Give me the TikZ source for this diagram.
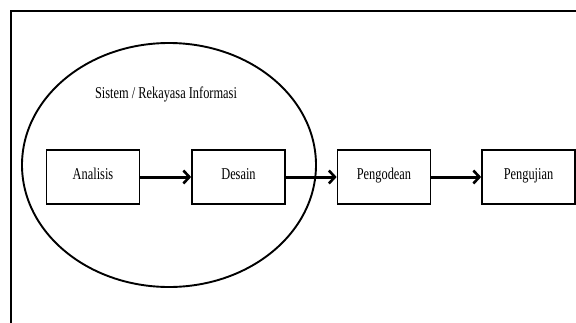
\documentclass[tikz,border=0pt]{standalone}
\usepackage{fontspec}
\setmainfont{Liberation Serif}
\newfontfamily\sempit[FakeStretch=0.75]{Liberation Serif}
\usepackage{tikz}
\usetikzlibrary{shapes.geometric}
\usetikzlibrary{arrows.meta}
\pgfdeclarelayer{nodelayer}
\pgfdeclarelayer{edgelayer}
\pgfsetlayers{edgelayer,nodelayer,main}
\tikzset{tahap/.style={draw=black, line width=1.7pt, inner sep=0pt, minimum width=93pt,
minimum height=54pt, text height=1.5ex, text depth=.25ex, text centered, anchor=center,
font=\sempit\fontsize{16.5}{18}\selectfont}}
\tikzset{judul/.style={inner sep=0pt, anchor=base, font=\sempit\fontsize{16.5}{18}\selectfont}}
\tikzset{lingkup/.style={shape=ellipse, draw=black, line width=1.9pt, inner sep=0pt,
minimum width=294pt, minimum height=244pt}}
\tikzset{alur/.style={line width=3pt, -{Straight Barb[length=6pt,width=13pt,line width=2.6pt]}}}
\tikzstyle{bingkai}=[line width=2.6pt]

\begin{document}
\begin{tikzpicture}[x=1pt, y=-1pt]
        \useasboundingbox (0, 0) rectangle (576, 322);
        \clip (0, 0) rectangle (576, 322);
        \begin{pgfonlayer}{nodelayer}
            \node [style=lingkup] (sistem) at (169, 165) {};
            \node [style=judul] (nama) at (166, 98) {Sistem / Rekayasa Informasi};
            \node [style=tahap] (analisis) at (93, 177) {Analisis};
            \node [style=tahap] (desain) at (238.5, 177) {Desain};
            \node [style=tahap] (pengodean) at (384, 177) {Pengodean};
            \node [style=tahap] (pengujian) at (528.5, 177) {Pengujian};
        \end{pgfonlayer}
        \begin{pgfonlayer}{edgelayer}
            \draw [style=alur] (analisis) to (desain);
            \draw [style=alur] (desain) to (pengodean);
            \draw [style=alur] (pengodean) to (pengujian);
        \end{pgfonlayer}
        \draw [style=bingkai] (11, 11) rectangle (600, 340);
    \end{tikzpicture}
\end{document}
